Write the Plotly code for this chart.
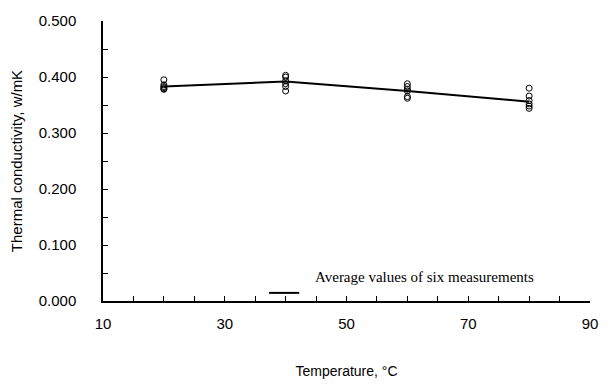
import plotly.graph_objects as go

temps = [20, 40, 60, 80]
averages = [0.383, 0.392, 0.375, 0.356]
meas_20 = [0.395, 0.386, 0.383, 0.381, 0.379, 0.378]
meas_40 = [0.403, 0.400, 0.393, 0.388, 0.383, 0.375]
meas_60 = [0.388, 0.383, 0.378, 0.375, 0.365, 0.362]
meas_80 = [0.380, 0.366, 0.358, 0.352, 0.348, 0.344]
measurements = [meas_20, meas_40, meas_60, meas_80]

x_ticks = [10, 30, 50, 70, 90]
y_ticks = [0.0, 0.1, 0.2, 0.3, 0.4, 0.5]
y_tick_labels = ["0.000", "0.100", "0.200", "0.300", "0.400", "0.500"]
legend_text = "Average values of six measurements"

fig = go.Figure()

px, py = [], []
for t, vals in zip(temps, measurements):
    px += [t] * len(vals)
    py += vals
fig.add_trace(go.Scatter(x=px, y=py, mode="markers",
                         marker=dict(symbol="circle-open", size=6, color="black", line=dict(width=1)),
                         showlegend=False))
fig.add_trace(go.Scatter(x=temps, y=averages, mode="lines",
                         line=dict(color="black", width=2), showlegend=False))

tick_font = dict(family="Liberation Sans, Arial", size=15, color="black")
xt_font = dict(family="Liberation Sans, Arial", size=14, color="black")
yt_font = dict(family="Liberation Sans, Arial", size=15, color="black")
fig.update_layout(
    width=613, height=392,
    margin=dict(l=95, r=31, t=13, b=99),
    paper_bgcolor="white", plot_bgcolor="white",
    font=tick_font,
    xaxis=dict(range=[10, 90], tickvals=x_ticks, ticks="inside", ticklen=5, tickwidth=1,
               tickcolor="black", showline=True, linecolor="black", linewidth=1.5,
               showgrid=False, zeroline=False, tickfont=tick_font, automargin=False,
               minor=dict(dtick=5, tick0=10, ticks="inside", ticklen=5, tickcolor="black", showgrid=False),
               title=dict(text="Temperature, °C", font=xt_font, standoff=35),
               ticklabelstandoff=8),
    yaxis=dict(range=[0, 0.5], tickvals=y_ticks, ticktext=y_tick_labels, ticks="inside", ticklen=5,
               tickwidth=1, tickcolor="black", showline=True, linecolor="black", linewidth=1.5,
               showgrid=False, zeroline=False, tickfont=tick_font, automargin=False,
               minor=dict(dtick=0.05, tick0=0, ticks="inside", ticklen=5, tickcolor="black", showgrid=False),
               title=dict(text="Thermal conductivity, w/mK", font=yt_font, standoff=14),
               ticklabelstandoff=22),
)

# legend drawn as a line sample with serif caption
fig.add_shape(type="line", xref="paper", yref="paper", x0=0.341, x1=0.403, y0=0.029, y1=0.029,
              line=dict(color="black", width=2))
fig.add_annotation(xref="paper", yref="paper", x=0.432, y=0.085, xanchor="left", yanchor="middle",
                   text=legend_text, showarrow=False,
                   font=dict(family="Liberation Serif, Times New Roman", size=15, color="black"))

fig.write_html("out.html")
